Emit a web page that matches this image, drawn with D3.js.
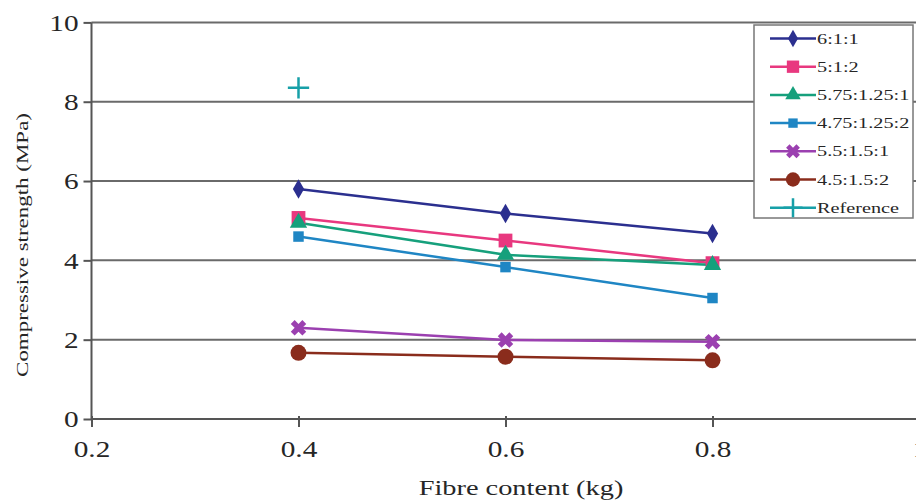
<!DOCTYPE html>
<html><head><meta charset="utf-8">
<script src="https://cdn.jsdelivr.net/npm/d3@7"></script>
<style>
html,body{margin:0;padding:0;background:#fff;}
svg{display:block;}
</style></head>
<body>
<svg id="c" width="916" height="503"></svg>
<script>
const fibre = [0.4, 0.6, 0.8];
const seriesNames = ["6:1:1","5:1:2","5.75:1.25:1","4.75:1.25:2","5.5:1.5:1","4.5:1.5:2","Reference"];
const s611 = [5.8, 5.18, 4.68];
const s512 = [5.07, 4.5, 3.93];
const s575 = [4.95, 4.14, 3.88];
const s475 = [4.6, 3.83, 3.05];
const s5515 = [2.3, 1.99, 1.95];
const s4515 = [1.67, 1.57, 1.48];
const refX = [0.4];
const refY = [8.35];
const xTicks = [0.2, 0.4, 0.6, 0.8, 1];
const yTicks = [0, 2, 4, 6, 8, 10];
const xTitle = "Fibre content (kg)";
const yTitle = "Compressive strength (MPa)";

const colors = ["#2b2f8f","#e8387f","#16a07c","#1f86c4","#9b40b0","#8a2c1c","#17a0a8"];
const shapes = ["diamond","square","triangle","smallsquare","x","circle","plus"];
const series = [
  {name: seriesNames[0], xs: fibre, ys: s611},
  {name: seriesNames[1], xs: fibre, ys: s512},
  {name: seriesNames[2], xs: fibre, ys: s575},
  {name: seriesNames[3], xs: fibre, ys: s475},
  {name: seriesNames[4], xs: fibre, ys: s5515},
  {name: seriesNames[5], xs: fibre, ys: s4515},
  {name: seriesNames[6], xs: refX, ys: refY}
];

const svg = d3.select("#c");
const x = d3.scaleLinear().domain([0.2, 1]).range([91.5, 919.5]);
const y = d3.scaleLinear().domain([0, 10]).range([419, 22.4]);
const FONT = "'Liberation Serif','Times New Roman',serif";
const TXT = "#262626";

function stretch(f){
  return sel => sel.each(function(){
    const w = this.getComputedTextLength();
    this.setAttribute("textLength", w*f);
    this.setAttribute("lengthAdjust","spacingAndGlyphs");
  });
}

// gridlines
svg.append("g").selectAll("line").data(yTicks.filter(d=>d>0)).join("line")
  .attr("x1", x(0.2)).attr("x2", 916)
  .attr("y1", d=>y(d)).attr("y2", d=>y(d))
  .attr("stroke","#6a6a6a").attr("stroke-width",2);

// y axis
const ya = svg.append("g").attr("transform",`translate(${x(0.2)},0)`)
  .call(d3.axisLeft(y).tickValues(yTicks).tickSize(8).tickPadding(6).tickFormat(d3.format("d")));
ya.select(".domain").attr("stroke","#555").attr("stroke-width",2).attr("d",`M-0,${y(10)}V${y(0)}`);
ya.selectAll(".tick line").attr("stroke","#555").attr("stroke-width",2);
ya.selectAll(".tick text").attr("font-family",FONT).attr("font-size",24).attr("fill",TXT).attr("x",-13).call(stretch(1.22));

// x axis
const xa = svg.append("g").attr("transform",`translate(0,${y(0)})`)
  .call(d3.axisBottom(x).tickValues(xTicks).tickSize(8).tickPadding(13).tickFormat(d=>d===1?"1":d3.format(".1f")(d)));
xa.select(".domain").attr("stroke","#555").attr("stroke-width",2).attr("d",`M${x(0.2)},0H916`);
xa.selectAll(".tick line").attr("stroke","#555").attr("stroke-width",2).attr("y1",-3);
xa.selectAll(".tick text").attr("font-family",FONT).attr("font-size",24).attr("fill",TXT).call(stretch(1.22));

// titles
svg.append("text").attr("x",521).attr("y",495).attr("text-anchor","middle")
  .attr("font-family",FONT).attr("font-size",21).attr("fill",TXT).text(xTitle).call(stretch(1.35));
svg.append("text").attr("transform","translate(28,245) rotate(-90)").attr("text-anchor","middle")
  .attr("font-family",FONT).attr("font-size",17).attr("fill",TXT).text(yTitle).call(stretch(1.35));

function drawMarker(g, shape, color, cx, cy, scale){
  scale = scale || 1;
  const s = g.append("g").attr("transform",`translate(${cx},${cy})`);
  if(shape==="diamond") s.append("path").attr("d",d3.symbol(d3.symbolDiamond, 110*scale)()).attr("fill",color);
  else if(shape==="square") s.append("path").attr("d",d3.symbol(d3.symbolSquare, 190*scale)()).attr("fill",color);
  else if(shape==="triangle") s.append("path").attr("d",d3.symbol(d3.symbolTriangle, 130*scale)()).attr("fill",color);
  else if(shape==="smallsquare") s.append("path").attr("d",d3.symbol(d3.symbolSquare, 110*scale)()).attr("fill",color);
  else if(shape==="x") s.append("path").attr("d",d3.symbol(d3.symbolCross, 150*scale)()).attr("transform","rotate(45)").attr("fill",color);
  else if(shape==="circle") s.append("path").attr("d",d3.symbol(d3.symbolCircle, 200*scale)()).attr("fill",color);
  else if(shape==="plus") s.append("path").attr("d",d3.symbol(d3.symbolPlus, 150*scale)()).attr("fill","none").attr("stroke",color).attr("stroke-width",2.5);
}

const line = d3.line().x(d=>x(d[0])).y(d=>y(d[1]));
const plot = svg.append("g");
series.forEach((s,i)=>{
  const pts = s.xs.map((v,j)=>[v, s.ys[j]]);
  if(pts.length>1) plot.append("path").attr("d",line(pts)).attr("fill","none")
    .attr("stroke",colors[i]).attr("stroke-width",2.5);
});
series.forEach((s,i)=>{
  s.xs.forEach((v,j)=>drawMarker(plot, shapes[i], colors[i], x(v), y(s.ys[j])));
});

// legend
const lg = svg.append("g");
lg.append("rect").attr("x",754).attr("y",25).attr("width",159).attr("height",193)
  .attr("fill","#fff").attr("stroke","#777").attr("stroke-width",1.5);
series.forEach((s,i)=>{
  const ly = 38.5 + i*28.2;
  lg.append("line").attr("x1",770).attr("x2",816).attr("y1",ly).attr("y2",ly)
    .attr("stroke",colors[i]).attr("stroke-width",2.5);
  drawMarker(lg, shapes[i], colors[i], 793, ly, 0.8);
  lg.append("text").attr("x",817).attr("y",ly+5).attr("font-family",FONT).attr("font-size",15)
    .attr("fill",TXT).text(s.name).call(stretch(1.35));
});
</script>
</body></html>
